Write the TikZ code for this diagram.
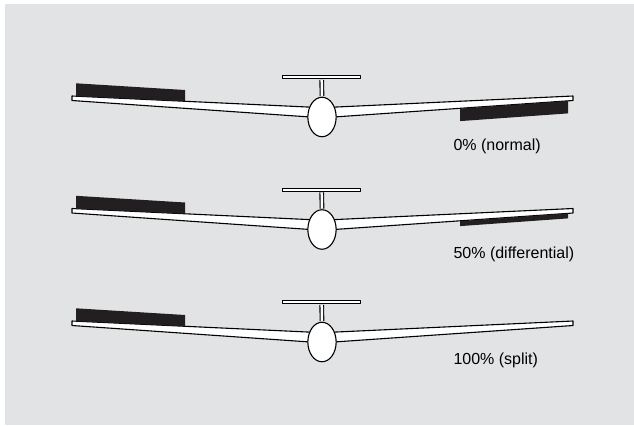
\documentclass[tikz,border=0pt]{standalone}
\usepackage{fontspec}
\setmainfont{Liberation Sans}
\usetikzlibrary{shapes.geometric}
\definecolor{panelgray}{RGB}{226,227,229}
\definecolor{flapblack}{RGB}{35,31,32}
\begin{document}
\begin{tikzpicture}
  [x=1bp,y=-1bp,line width=1.1bp,line join=round,
   part/.style={draw=black,fill=white},
   flap/.style={fill=flapblack,draw=none},
   caption/.style={anchor=base west,inner sep=0,font=\fontsize{16bp}{19bp}\selectfont}]
  \useasboundingbox (0,0) rectangle (634,425);
  \fill[panelgray] (5,4) rectangle (634,425);
  % one glider per row: name / row offset / down-aileron depth / caption
  \foreach \i/\oy/\t/\ty/\txt in {1/0/12.5/150.5/{0\% (normal)},
                                  2/112.5/5/258/{50\% (differential)},
                                  3/225/0/364/{100\% (split)}}{
    \begin{scope}[shift={(0,\oy)}]
      % wings
      \draw[part] (72,96) -- (316,107.4) -- (316,117.4) -- (72,100.5) -- cycle;
      \draw[part] (328,107.4) -- (573,96) -- (573,100.5) -- (328,117.4) -- cycle;
      % ailerons
      \fill[flap] (76,83.3) -- (185,90) -- (185,101.3) -- (76,96.2) -- cycle;
      \fill[flap] (460,108.6) -- (568,100.9) -- (568,100.9+\t) -- (460,108.6+\t) -- cycle;
      % fuselage and tail
      \node[ellipse,part,inner sep=0,minimum width=28.3bp,minimum height=39.5bp] (body\i) at (322,117) {};
      \node[rectangle,part,inner sep=0,minimum width=77.6bp,minimum height=3.2bp] (tail\i) at (321.7,77.2) {};
      \draw[double=white,double distance=2.5bp,shorten <=0.55bp,shorten >=0.55bp] (tail\i.south) -- (body\i.north);
    \end{scope}
    \node[caption] (lbl\i) at (453,\ty) {\txt};
  }
\end{tikzpicture}
\end{document}
